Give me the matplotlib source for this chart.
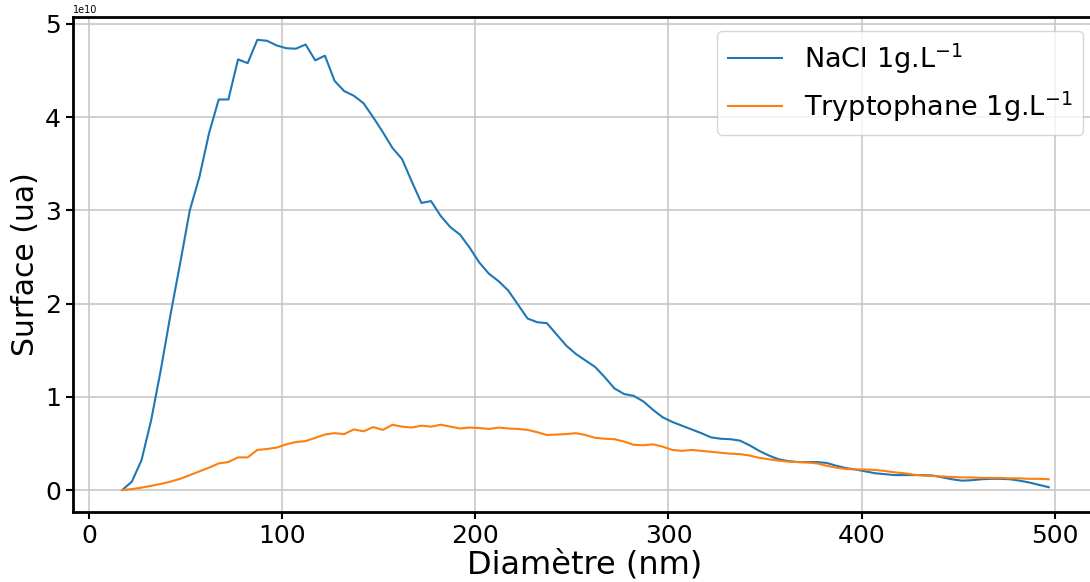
import numpy as np
import matplotlib
matplotlib.use("Agg")
import matplotlib.pyplot as plt

# diameters (nm), one point every 5 nm
diametre = np.arange(17, 498, 5)

# surface in units of 1e10
nacl = [0.0, 0.09, 0.32, 0.75, 1.29, 1.88, 2.43, 3.0, 3.36, 3.83,
        4.19, 4.19, 4.62, 4.58, 4.83, 4.82, 4.77, 4.74, 4.735, 4.78,
        4.61, 4.66, 4.39, 4.28, 4.23, 4.15, 4.0, 3.84, 3.67, 3.55,
        3.31, 3.08, 3.10, 2.94, 2.82, 2.74, 2.60, 2.44, 2.32, 2.24,
        2.14, 1.99, 1.84, 1.80, 1.79, 1.67, 1.55, 1.46, 1.39, 1.32,
        1.21, 1.09, 1.03, 1.01, 0.95, 0.86, 0.78, 0.73, 0.69, 0.65,
        0.61, 0.565, 0.55, 0.545, 0.53, 0.48, 0.42, 0.37, 0.33, 0.31,
        0.30, 0.30, 0.30, 0.29, 0.26, 0.235, 0.22, 0.20, 0.18, 0.17,
        0.16, 0.16, 0.16, 0.16, 0.155, 0.135, 0.115, 0.10, 0.105, 0.115,
        0.12, 0.12, 0.115, 0.10, 0.08, 0.055, 0.03]

trypto = [0.0, 0.01, 0.025, 0.045, 0.065, 0.09, 0.12, 0.16, 0.20, 0.24,
          0.285, 0.30, 0.35, 0.35, 0.43, 0.44, 0.455, 0.49, 0.515, 0.525,
          0.56, 0.595, 0.61, 0.60, 0.65, 0.63, 0.675, 0.645, 0.70, 0.68,
          0.67, 0.69, 0.68, 0.70, 0.68, 0.66, 0.67, 0.665, 0.655, 0.67,
          0.66, 0.655, 0.645, 0.62, 0.59, 0.595, 0.60, 0.61, 0.59, 0.56,
          0.55, 0.545, 0.52, 0.485, 0.48, 0.49, 0.465, 0.43, 0.42, 0.43,
          0.42, 0.41, 0.40, 0.39, 0.385, 0.37, 0.345, 0.33, 0.315, 0.305,
          0.30, 0.295, 0.285, 0.26, 0.24, 0.225, 0.22, 0.22, 0.215, 0.205,
          0.19, 0.18, 0.165, 0.155, 0.15, 0.145, 0.14, 0.135, 0.135, 0.13,
          0.13, 0.13, 0.125, 0.125, 0.12, 0.12, 0.115]

nacl = np.array(nacl) * 1e10
trypto = np.array(trypto) * 1e10

fig = plt.figure(figsize=(10.9, 5.82), dpi=100)
# the right part of the axes runs past the edge of the image, as in the original crop
ax = fig.add_axes([73/1090, 70/582, 1024/1090, 495/582])

ax.plot(diametre, nacl, color='#1f77b4', lw=1.5, label=r'NaCl 1g.L$^{-1}$')
ax.plot(diametre, trypto, color='#ff7f0e', lw=1.5, label=r'Tryptophane 1g.L$^{-1}$')

ax.set_xlim(-8.5, 522)
ax.set_ylim(-0.236e10, 5.075e10)
ax.grid(True, color='#c8c8c8', lw=1.2)
ax.set_axisbelow(True)

ax.tick_params(labelsize=18, width=1.5, length=5)
ax.yaxis.get_offset_text().set_fontsize(7)
for s in ax.spines.values():
    s.set_linewidth(2)

ax.set_xlabel('Diamètre (nm)', fontsize=23, labelpad=1)
ax.set_ylabel('Surface (ua)', fontsize=21.5, labelpad=4)
ax.legend(loc='upper right', fontsize=19.5)

fig.savefig('out.png', dpi=100)
